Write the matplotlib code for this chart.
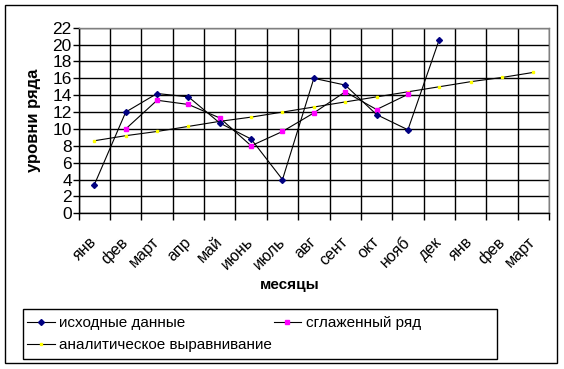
import numpy as np
import matplotlib.pyplot as plt
from matplotlib.patches import Rectangle
from matplotlib.transforms import ScaledTranslation

months = ['янв', 'фев', 'март', 'апр', 'май', 'июнь', 'июль', 'авг',
          'сент', 'окт', 'нояб', 'дек', 'янв', 'фев', 'март']

# исходные данные (12 месяцев)
raw = [3.4, 12.0, 14.2, 13.8, 10.7, 8.8, 4.0, 16.0, 15.2, 11.7, 9.9, 20.6]
# сглаженный ряд (фев..нояб)
smooth = [10.0, 13.4, 12.9, 11.3, 8.0, 9.7, 11.9, 14.4, 12.3, 14.1]
# аналитическое выравнивание (15 месяцев)
trend = [8.6, 9.2, 9.7, 10.3, 10.9, 11.4, 12.0, 12.6, 13.2, 13.8,
         14.4, 15.0, 15.6, 16.1, 16.7]

plt.rcParams['font.family'] = ['Liberation Sans', 'DejaVu Sans']

fig = plt.figure(figsize=(5.64, 3.69), dpi=100)
W, H = 564, 369
ax = fig.add_axes([78.7 / W, 1 - 213.3 / H, (549 - 78.7) / W, (213.3 - 27.7) / H])

x = np.arange(len(months))
l_raw, = ax.plot(x[:len(raw)], raw, color='black', lw=0.8, marker='D', ms=3,
                 mfc='#000080', mec='#000080', label='исходные данные', zorder=5)
l_sm, = ax.plot(x[1:1 + len(smooth)], smooth, color='black', lw=0.8, marker='s', ms=3.5,
                mfc='#ff00ff', mec='#ff00ff', label='сглаженный ряд', zorder=4)
l_tr, = ax.plot(x, trend, color='black', lw=0.8, marker='s', ms=2,
                mfc='#ffff00', mec='#ffff00', label='аналитическое выравнивание', zorder=3)

ax.set_xlim(-0.5, len(months) - 0.5)
ax.set_ylim(0, 22)
ax.set_yticks(range(0, 23, 2))
ax.set_xticks(np.arange(-0.5, len(months)), minor=False)
ax.set_xticklabels([])
ax.set_xticks(x, minor=True)
ax.set_xticklabels(months, minor=True, rotation=45, ha='right', va='center',
                   rotation_mode='anchor', fontsize=11.5)
shift = ScaledTranslation(-5 / 100, 0, fig.dpi_scale_trans)
for lbl in ax.get_xticklabels(minor=True):
    lbl.set_transform(lbl.get_transform() + shift)
ax.tick_params(axis='x', which='minor', length=0, pad=19)
ax.tick_params(axis='x', which='major', length=5, width=1, direction='out')
ax.tick_params(axis='y', length=4, width=1, labelsize=12.5, pad=1)
ax.grid(True, which='major', color='black', lw=1)
ax.set_axisbelow(True)
for s in ['left', 'bottom']:
    ax.spines[s].set_color('black')
    ax.spines[s].set_linewidth(1)
for s in ['top', 'right']:
    ax.spines[s].set_color('#808080')
    ax.spines[s].set_linewidth(1)

ax.set_ylabel('уровни ряда', fontsize=12, fontweight='bold', labelpad=8)
fig.text(290 / W, 1 - 285 / H, 'месяцы', fontsize=11, fontweight='bold',
         ha='center', va='center')

# рамка легенды
fig.patches.append(Rectangle((23 / W, 1 - 359 / H), (497 - 23) / W, 50 / H,
                             transform=fig.transFigure, fill=False,
                             edgecolor='black', lw=1))
# порядок: колонки заполняются сверху вниз
leg = fig.legend([l_raw, l_tr, l_sm], [l_raw.get_label(), l_tr.get_label(), l_sm.get_label()],
                 loc='upper left', bbox_to_anchor=(24 / W, 1 - 313 / H),
                 ncol=2, fontsize=11, frameon=False,
                 handlelength=1.8, handletextpad=0.3, columnspacing=0.1,
                 borderpad=0.2, labelspacing=0.55, borderaxespad=0)

fig.patches.append(Rectangle((5 / W, 1 - 363 / H), (557 - 5) / W, (363 - 5) / H,
                             transform=fig.transFigure, fill=False,
                             edgecolor='black', lw=1))

fig.savefig('out.png', dpi=100)
